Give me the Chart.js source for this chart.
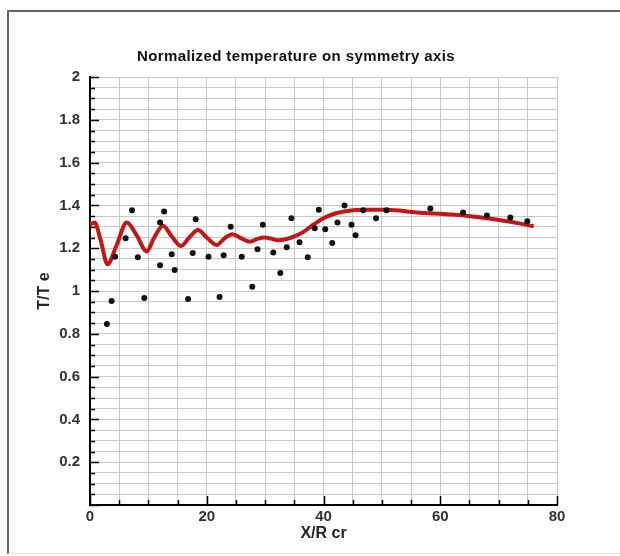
<!DOCTYPE html>
<html>
<head>
<meta charset="utf-8">
<script src="https://cdn.jsdelivr.net/npm/chart.js@4.4.1/dist/chart.umd.min.js"></script>
<style>
  html, body { margin: 0; padding: 0; background: #fff; overflow: hidden; }
  #wrap { position: relative; width: 620px; height: 556px; overflow: hidden; }
  #frame { position: absolute; left: 7px; top: 10px; width: 640px; height: 541px;
           border-left: 2px solid #666; border-top: 2px solid #666; border-bottom: 1px solid #e2e2e2;
           pointer-events: none; }
  canvas { position: absolute; left: 0; top: 0; }
</style>
</head>
<body>
<div id="wrap">
  <canvas id="myChart" width="620" height="556"></canvas>
  <div id="frame"></div>
</div>
<script>
// measured points (black dots)
const pointX = [2.9, 3.7, 4.3, 6.1, 7.2, 8.2, 9.3, 12.0, 12.0, 12.7, 14.0, 14.5, 16.8, 17.6, 18.1, 20.3, 22.2, 22.9, 24.1, 26.0, 27.8, 28.7, 29.6, 31.4, 32.6, 33.7, 34.5, 35.9, 37.3, 38.5, 39.2, 40.3, 41.5, 42.4, 43.6, 44.8, 45.5, 46.8, 49.0, 50.8, 58.3, 63.9, 68.0, 72.0, 74.9];
const pointY = [0.846, 0.953, 1.16, 1.247, 1.377, 1.158, 0.967, 1.32, 1.12, 1.372, 1.172, 1.098, 0.963, 1.177, 1.335, 1.16, 0.972, 1.167, 1.30, 1.16, 1.02, 1.195, 1.31, 1.18, 1.084, 1.205, 1.34, 1.228, 1.158, 1.293, 1.38, 1.288, 1.224, 1.32, 1.40, 1.31, 1.26, 1.377, 1.34, 1.377, 1.386, 1.367, 1.353, 1.344, 1.326];

// computed curve (red line)
const curveX = [0, 0.8, 1.8, 3.0, 4.5, 6.3, 8.0, 9.7, 11.0, 12.5, 14.0, 15.6, 17.0, 18.5, 20.0, 21.7, 23.0, 24.4, 26.0, 27.4, 28.8, 29.9, 31.0, 32.2, 33.5, 35.0, 36.5, 38.0, 40.0, 42.0, 44.0, 47.0, 50.8, 56.0, 62.0, 68.0, 73.5, 76.0];
const curveY = [1.31, 1.32, 1.24, 1.125, 1.21, 1.32, 1.26, 1.185, 1.25, 1.305, 1.255, 1.21, 1.25, 1.285, 1.25, 1.215, 1.245, 1.265, 1.245, 1.23, 1.245, 1.25, 1.245, 1.237, 1.242, 1.255, 1.275, 1.305, 1.34, 1.362, 1.374, 1.38, 1.38, 1.367, 1.357, 1.34, 1.316, 1.302];

const titleText = "Normalized temperature on symmetry axis";
const xTitle = "X/R cr";
const yTitle = "T/T e";

const canvas = document.getElementById("myChart");
const isMult = (v, s) => Math.abs(v / s - Math.round(v / s)) < 1e-6;

// title + inward tick marks
const extras = {
  id: "extras",
  afterDraw(chart) {
    const ctx = chart.ctx;
    const xs = chart.scales.x, ys = chart.scales.y;
    const area = chart.chartArea;
    ctx.save();
    ctx.fillStyle = "#111";
    ctx.font = "bold 15px 'Liberation Sans', Arial, sans-serif";
    ctx.letterSpacing = "0.4px";
    ctx.textAlign = "center";
    ctx.textBaseline = "middle";
    ctx.fillText(titleText, 296, 57);
    ctx.letterSpacing = "0px";

    ctx.strokeStyle = "#000";
    ctx.lineWidth = 1.5;
    ctx.beginPath();
    ys.ticks.forEach(t => {
      const py = Math.round(ys.getPixelForValue(t.value)) + 0.5;
      const len = isMult(t.value, 0.2) ? 9 : 5;
      ctx.moveTo(area.left, py);
      ctx.lineTo(area.left + len, py);
    });
    xs.ticks.forEach(t => {
      const px = Math.round(xs.getPixelForValue(t.value)) + 0.5;
      const len = isMult(t.value, 20) ? 9 : 5;
      ctx.moveTo(px, area.bottom);
      ctx.lineTo(px, area.bottom - len);
    });
    ctx.stroke();
    ctx.restore();
  }
};

const gridStyle = { color: "#c8c8c8", lineWidth: 1, drawTicks: false };

new Chart(canvas, {
  type: "scatter",
  data: {
    datasets: [
      {
        label: "points",
        data: pointX.map((x, i) => ({ x: x, y: pointY[i] })),
        pointRadius: 3,
        pointBackgroundColor: "#111",
        pointBorderWidth: 0,
        order: 0,
      },
      {
        label: "curve",
        type: "line",
        data: curveX.map((x, i) => ({ x: x, y: curveY[i] })),
        borderColor: "#c41616",
        borderWidth: 4,
        pointRadius: 0,
        fill: false,
        cubicInterpolationMode: "monotone",
        order: 1,
      },
    ],
  },
  options: {
    responsive: false,
    animation: false,
    layout: { padding: { top: 77, right: 63, left: 0, bottom: 0 } },
    plugins: { legend: { display: false }, tooltip: { enabled: false } },
    scales: {
      x: {
        type: "linear",
        min: 0,
        max: 80,
        afterFit: (s) => { s.height = 51; },
        border: { display: true, color: "#000", width: 2 },
        grid: { ...gridStyle, borderDash: [4, 2] },
        ticks: {
          stepSize: 5,
          autoSkip: false,
          maxRotation: 0,
          padding: 3,
          color: "#333",
          font: { family: "'Liberation Sans', Arial, sans-serif", size: 15, weight: "bold" },
          callback: (v) => (isMult(v, 20) ? String(v) : ""),
        },
        title: {
          display: true,
          text: xTitle,
          color: "#222",
          padding: { top: 0, bottom: 13 },
          font: { family: "'Liberation Sans', Arial, sans-serif", size: 16, weight: "bold" },
        },
      },
      y: {
        type: "linear",
        min: 0,
        max: 2,
        afterFit: (s) => { s.width = 90; },
        border: { display: true, color: "#000", width: 2 },
        grid: { ...gridStyle, borderDash: [4, 2] },
        ticks: {
          stepSize: 0.05,
          maxTicksLimit: 100,
          autoSkip: false,
          padding: 10,
          color: "#333",
          font: { family: "'Liberation Sans', Arial, sans-serif", size: 15, weight: "bold" },
          callback: (v) => (isMult(v, 0.2) && v > 0.01 ? String(Math.round(v * 10) / 10) : ""),
        },
        title: {
          display: true,
          text: yTitle,
          color: "#222",
          padding: { top: 35, bottom: 0 },
          font: { family: "'Liberation Sans', Arial, sans-serif", size: 16, weight: "bold" },
        },
      },
    },
  },
  plugins: [extras],
});
</script>
</body>
</html>
